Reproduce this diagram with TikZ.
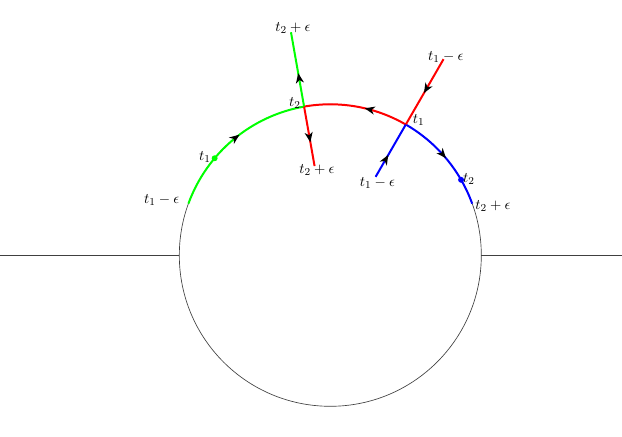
\documentclass[tikz,border=0pt]{standalone}
\usetikzlibrary{decorations.markings,arrows.meta}
\begin{document}
\begin{tikzpicture}[
  font=\fontsize{11}{13}\selectfont,
  thinline/.style={draw=black!75,line width=0.5pt},
  seg/.style={line width=1.5pt},
  midarrow/.style={postaction={decorate},decoration={markings,mark=at position #1 with {\arrow{Stealth[length=7.5pt,width=6pt,inset=2.2pt,black]}}}},
  lbl/.style={inner sep=0pt},
  dotc/.style={circle,inner sep=0pt,minimum size=4.5pt}
]
\useasboundingbox (-8.75,-4.787) rectangle (7.727,6.763);
% base coordinates
\coordinate (O) at (0,0);
\coordinate (Lfar) at (-8.75,0);
\coordinate (Lc) at (-4,0);
\coordinate (Rc) at (4,0);
\coordinate (Rfar) at (7.727,0);
\coordinate (G0) at (160:4);
\coordinate (T2) at (100:4);
\coordinate (T1) at (60:4);
\coordinate (B1) at (20:4);
\coordinate (T2out) at (100:6);
\coordinate (T2in) at (100:2.4);
\coordinate (T1out) at (60:6);
\coordinate (T1in) at (60:2.4);
% background lines and circle
\draw[thinline] (Lfar) -- (Lc);
\draw[thinline] (Rc) -- (Rfar);
\draw[thinline] (O) circle[radius=4];
% coloured arcs
\draw[seg,green,midarrow=0.55] (G0) arc[start angle=160,end angle=100,radius=4];
\draw[seg,red,midarrow=0.42] (T1) arc[start angle=60,end angle=100,radius=4];
\draw[seg,blue,midarrow=0.5] (T1) arc[start angle=60,end angle=20,radius=4];
% radial segments
\draw[seg,green,midarrow=0.45] (T2) -- (T2out);
\draw[seg,red,midarrow=0.6] (T2) -- (T2in);
\draw[seg,red,midarrow=0.52] (T1out) -- (T1);
\draw[seg,blue,midarrow=0.42] (T1in) -- (T1);
% dots
\node[dotc,fill=green] (gdot) at (140:4) {};
\node[dotc,fill=blue] (bdot) at (30:4) {};
% labels
\node[lbl] (l1) at (-4.466,1.465) {$t_1-\epsilon$};
\node[lbl] (l2) at (-3.319,2.604) {$t_1$};
\node[lbl] (l3) at (-0.935,4.042) {$t_2$};
\node[lbl] (l4) at (-0.352,2.260) {$t_2+\epsilon$};
\node[lbl] (l5) at (-0.988,6.013) {$t_2+\epsilon$};
\node[lbl] (l6) at (3.060,5.261) {$t_1-\epsilon$};
\node[lbl] (l7) at (2.342,3.584) {$t_1$};
\node[lbl] (l8) at (1.250,1.923) {$t_1-\epsilon$};
\node[lbl] (l9) at (3.674,2.013) {$t_2$};
\node[lbl] (l10) at (4.310,1.314) {$t_2+\epsilon$};
\end{tikzpicture}
\end{document}
